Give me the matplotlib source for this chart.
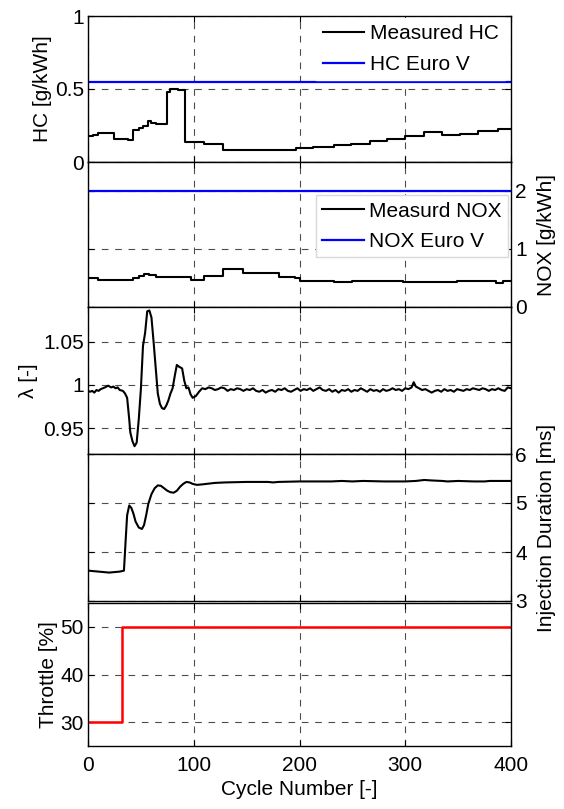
import numpy as np
import matplotlib
matplotlib.use('Agg')
import matplotlib.pyplot as plt

plt.rcParams['font.family'] = ['Liberation Sans', 'DejaVu Sans']
plt.rcParams['font.size'] = 15

# HC [g/kWh] (step data: start cycle, value)
hc_x = [0, 5, 9, 25, 38, 43, 48, 52, 57, 60, 64, 75, 78, 85, 92, 110, 128, 197, 213, 233, 249, 267, 283, 300, 318, 335, 352, 369, 388, 400]
hc_y = [0.18, 0.185, 0.20, 0.16, 0.15, 0.22, 0.23, 0.25, 0.28, 0.27, 0.26, 0.48, 0.50, 0.49, 0.135, 0.12, 0.08, 0.095, 0.105, 0.115, 0.125, 0.145, 0.16, 0.18, 0.205, 0.185, 0.195, 0.215, 0.225, 0.225]
hc_limit = 0.55

# NOX [g/kWh]
nox_x = [0, 9, 20, 25, 38, 43, 48, 53, 58, 64, 77, 83, 97, 110, 128, 147, 181, 196, 200, 233, 250, 298, 349, 386, 392, 400]
nox_y = [0.50, 0.46, 0.47, 0.46, 0.47, 0.50, 0.54, 0.57, 0.56, 0.52, 0.51, 0.52, 0.47, 0.54, 0.66, 0.58, 0.52, 0.50, 0.45, 0.43, 0.45, 0.43, 0.45, 0.42, 0.45, 0.45]
nox_limit = 2.0

# lambda [-]
lam_x = [0, 2, 4, 6, 8, 10, 12, 14, 16, 19, 22, 24, 26, 28, 30, 33, 35, 37, 39, 40, 42, 44, 46, 48, 50, 52, 54, 56, 58,
         60, 62, 64, 66, 68, 70, 72, 74, 76, 78, 80, 82, 84, 86, 89, 91, 93, 95, 97, 99, 102, 105, 108, 111, 114, 117,
         120, 123, 126, 129, 132, 135, 138, 141, 144, 147, 150, 153, 156, 159, 162, 165, 168, 171, 174, 177, 180, 183,
         186, 189, 192, 195, 198, 201, 204, 207, 210, 213, 216, 219, 222, 225, 228, 231, 234, 237, 240, 243, 246, 249,
         252, 255, 258, 261, 264, 267, 270, 273, 276, 279, 282, 285, 288, 291, 294, 297, 300, 303, 306, 308, 310, 313,
         316, 319, 322, 325, 328, 331, 334, 337, 340, 343, 346, 349, 352, 355, 358, 361, 364, 367, 370, 373, 376, 379,
         382, 385, 388, 391, 394, 397, 400]
lam_y = [0.993, 0.992, 0.993, 0.991, 0.994, 0.993, 0.995, 0.996, 0.997, 0.999, 0.997, 0.998, 0.996, 0.997, 0.994, 0.993,
         0.990, 0.985, 0.960, 0.945, 0.935, 0.929, 0.933, 0.960, 0.995, 1.045, 1.060, 1.085, 1.086, 1.078, 1.050, 1.020,
         0.990, 0.978, 0.973, 0.972, 0.976, 0.982, 0.990, 0.996, 1.010, 1.023, 1.021, 1.019, 1.005, 0.996, 0.997, 0.989,
         0.985, 0.987, 0.992, 0.996, 0.995, 0.997, 0.996, 0.994, 0.995, 0.997, 0.996, 0.993, 0.995, 0.994, 0.996, 0.995,
         0.993, 0.995, 0.994, 0.996, 0.993, 0.992, 0.994, 0.991, 0.993, 0.994, 0.992, 0.995, 0.994, 0.996, 0.993, 0.992,
         0.994, 0.996, 0.993, 0.995, 0.994, 0.996, 0.993, 0.995, 0.997, 0.994, 0.993, 0.995, 0.992, 0.994, 0.991, 0.994,
         0.993, 0.995, 0.992, 0.994, 0.993, 0.996, 0.994, 0.992, 0.995, 0.993, 0.994, 0.992, 0.995, 0.993, 0.994, 0.996,
         0.994, 0.995, 0.993, 0.996, 0.995, 0.997, 1.003, 0.998, 0.996, 0.994, 0.995, 0.993, 0.991, 0.993, 0.994,
         0.992, 0.995, 0.993, 0.994, 0.992, 0.995, 0.994, 0.993, 0.995, 0.994, 0.996, 0.995, 0.994, 0.996, 0.995, 0.993,
         0.995, 0.994, 0.996, 0.994, 0.993, 0.997, 0.996]

# injection duration [ms]
inj_x = [0, 5, 10, 15, 20, 25, 30, 34, 35.5, 37, 39, 41, 43, 45, 48, 51, 53, 55, 57, 60, 63, 66, 69, 72, 75, 78, 81, 84,
         87, 90, 93, 96, 99, 103, 108, 120, 130, 150, 170, 175, 180, 200, 230, 240, 250, 260, 280, 300, 310, 318, 325,
         335, 340, 350, 365, 375, 380, 400]
inj_y = [3.62, 3.61, 3.60, 3.59, 3.58, 3.59, 3.60, 3.62, 4.20, 4.75, 4.95, 4.90, 4.78, 4.62, 4.50, 4.47, 4.55, 4.75, 4.98,
         5.18, 5.30, 5.36, 5.35, 5.30, 5.25, 5.22, 5.21, 5.25, 5.33, 5.39, 5.43, 5.42, 5.39, 5.37, 5.38, 5.41, 5.42, 5.43,
         5.43, 5.42, 5.43, 5.44, 5.44, 5.45, 5.44, 5.45, 5.44, 5.44, 5.45, 5.47, 5.46, 5.45, 5.44, 5.45, 5.44, 5.44, 5.45, 5.45]

# throttle [%]
thr_x = [0, 32, 400]
thr_y = [30, 50, 50]

fig = plt.figure(figsize=(5.64, 8.09), dpi=100)
L, W = 88 / 564, (511 - 88) / 564
H = 809.0
def mk(top, bot):
    return fig.add_axes([L, 1 - bot / H, W, (bot - top) / H])

ax1 = mk(16, 162)
ax2 = mk(162, 307)
ax3 = mk(307, 454)
ax4 = mk(454, 601)
ax5 = mk(603, 746)
axes = [ax1, ax2, ax3, ax4, ax5]

for ax in axes:
    ax.set_xlim(0, 400)
    ax.set_xticks([0, 100, 200, 300, 400])
    ax.grid(True, color='0.3', linestyle=(0, (6, 6)), linewidth=0.8)
    ax.tick_params(direction='in', length=4, width=0.8, top=True, bottom=True, left=True, right=True,
                   labelsize=15, pad=3)
    for s in ax.spines.values():
        s.set_linewidth(1.0)
    if ax is not ax5:
        ax.tick_params(labelbottom=False)

# HC
ax1.step(hc_x, hc_y, where='post', color='black', lw=1.5, label='Measured HC')
ax1.axhline(hc_limit, color='blue', lw=1.6, label='HC Euro V')
ax1.set_ylim(0, 1)
ax1.set_yticks([0, 0.5, 1])
ax1.set_yticklabels(['0', '0.5', '1'])
ax1.set_ylabel('HC [g/kWh]', labelpad=2)
ax1.legend(loc='upper right', bbox_to_anchor=(0.99, 1.0), borderaxespad=0.1, frameon=True,
           fancybox=False, edgecolor='white', framealpha=1, handlelength=2.0, handletextpad=0.25,
           labelspacing=0.55, borderpad=0.3, fontsize=15)

# NOX
ax2.step(nox_x, nox_y, where='post', color='black', lw=1.5, label='Measurd NOX')
ax2.axhline(nox_limit, color='blue', lw=1.6, label='NOX Euro V')
ax2.set_ylim(0, 2.5)
ax2.set_yticks([0, 1, 2])
ax2.tick_params(labelleft=False, labelright=True)
ax2.yaxis.set_label_position('right')
ax2.set_ylabel('NOX [g/kWh]', labelpad=7)
ax2.legend(loc='upper right', bbox_to_anchor=(0.993, 0.77), borderaxespad=0, frameon=True,
           fancybox=False, edgecolor='0.85', framealpha=1, handlelength=2.0, handletextpad=0.25,
           labelspacing=0.55, borderpad=0.3, fontsize=15)

# lambda
ax3.plot(lam_x, lam_y, color='black', lw=1.5)
ax3.set_ylim(0.92, 1.09)
ax3.set_yticks([0.95, 1.0, 1.05])
ax3.set_yticklabels(['0.95', '1', '1.05'])
ax3.set_ylabel('λ [-]', labelpad=4)

# injection
ax4.plot(inj_x, inj_y, color='black', lw=1.5)
ax4.set_ylim(3, 6)
ax4.set_yticks([3, 4, 5, 6])
ax4.tick_params(labelleft=False, labelright=True)
ax4.yaxis.set_label_position('right')
ax4.set_ylabel('Injection Duration [ms]', labelpad=7)

# throttle
ax5.plot(thr_x, thr_y, color='red', lw=1.8, drawstyle='steps-post')
ax5.set_ylim(25, 55)
ax5.set_yticks([30, 40, 50])
ax5.set_ylabel('Throttle [%]', labelpad=2)
ax5.tick_params(axis='x', pad=7)
ax5.set_xlabel('Cycle Number [-]', labelpad=4)

fig.savefig('out.png', dpi=100)
